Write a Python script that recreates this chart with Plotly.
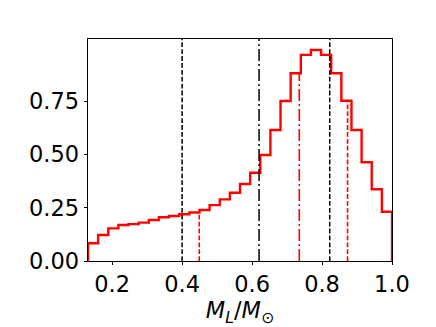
import numpy as np
import plotly.graph_objects as go

# histogram of lens mass, 30 bins between lo and hi
lo, hi = 0.131, 1.0
heights = [0.083, 0.122, 0.153, 0.169, 0.173, 0.180, 0.192, 0.205, 0.211, 0.219,
           0.227, 0.239, 0.262, 0.289, 0.320, 0.361, 0.414, 0.497, 0.614, 0.750,
           0.880, 0.966, 0.989, 0.966, 0.880, 0.751, 0.614, 0.463, 0.336, 0.231]

# reference values (black) and estimates (red)
black_dashed = [0.400, 0.822]
black_dashdot = [0.620]
red_dashed = [0.449, 0.873]
red_dashdot = [0.735]

edges = np.linspace(lo, hi, len(heights) + 1)


def hist_at(x):
    i = int(np.clip(np.searchsorted(edges, x, side="right") - 1, 0, len(heights) - 1))
    return heights[i]


DASH = "4.8px,2.1px"
DASHDOT = "12px,3px,2px,3px"

fig = go.Figure()

xs = [edges[0]] + list(edges)
ys = [0] + heights + [0]
fig.add_trace(go.Scatter(x=xs, y=ys, mode="lines", line=dict(color="red", width=2.4, shape="hv"),
                         hoverinfo="skip", showlegend=False))

for v in red_dashed:
    fig.add_trace(go.Scatter(x=[v, v], y=[0, hist_at(v)], mode="lines",
                             line=dict(color="red", width=1.6, dash=DASH), showlegend=False))
for v in red_dashdot:
    fig.add_trace(go.Scatter(x=[v, v], y=[0, hist_at(v)], mode="lines",
                             line=dict(color="red", width=1.6, dash=DASHDOT), showlegend=False))

for v in black_dashed:
    fig.add_shape(type="line", xref="x", yref="paper", x0=v, x1=v, y0=0, y1=1,
                  line=dict(color="black", width=1.5, dash=DASH))
for v in black_dashdot:
    fig.add_shape(type="line", xref="x", yref="paper", x0=v, x1=v, y0=0, y1=1,
                  line=dict(color="black", width=1.5, dash=DASHDOT))

font = dict(family="DejaVu Sans", size=22.5, color="black")
fig.update_layout(
    width=428, height=319,
    margin=dict(l=80, r=44, t=31, b=66),
    paper_bgcolor="white", plot_bgcolor="white",
    font=font,
    showlegend=False,
)
fig.update_xaxes(range=[lo, hi], tickvals=[0.2, 0.4, 0.6, 0.8, 1.0], ticktext=["0.2", "0.4", "0.6", "0.8", "1.0"],
                 showgrid=False, zeroline=False, showline=True, mirror=True, linecolor="black", linewidth=0.8,
                 ticks="outside", ticklen=3.5, tickwidth=0.8, tickcolor="black",
                 title=dict(text="<i>M</i><sub><i>L</i></sub>/<i>M</i><sub>⊙</sub>", font=font, standoff=2),
                 automargin=False)
fig.update_yaxes(range=[0, 1.0406], tickvals=[0, 0.25, 0.5, 0.75], ticktext=["0.00", "0.25", "0.50", "0.75"],
                 showgrid=False, zeroline=False, showline=True, mirror=True, linecolor="black", linewidth=0.8,
                 ticks="outside", ticklen=3.5, tickwidth=0.8, tickcolor="black", automargin=False)

fig.write_html("out.html")
